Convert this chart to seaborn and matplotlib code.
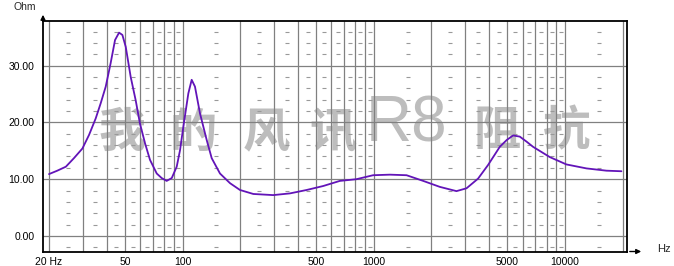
import numpy as np
import pandas as pd
import matplotlib
matplotlib.use("Agg")
import matplotlib.pyplot as plt
import seaborn as sns

# ---------------- data ----------------
freq_hz = [20, 22.1, 24.5, 27.0, 29.9, 32.4, 35.1, 37.3, 39.6, 42.0, 44.3, 46.5,
           48.4, 50.4, 53.5, 56.8, 59.8, 63.6, 67.5, 73.2, 77.7, 82.5, 87.7,
           93.1, 96.9, 100.8, 107.1, 111.5, 116.0, 123.2, 133.6, 141.9, 156.8,
           176.9, 199.5, 234.2, 297.6, 363.9, 444.9, 543.3, 664, 811,
           991, 1213, 1483, 1812, 2213, 2705, 3053, 3508, 3957, 4557, 4954,
           5348, 5796, 6299, 6804, 8316, 10166, 12945, 16458, 19723]
impedance_ohm = [10.9, 11.5, 12.2, 13.7, 15.4, 17.8, 20.7, 23.4, 26.3, 30.4, 34.5,
                 35.8, 35.4, 33.3, 28.0, 23.9, 19.8, 16.3, 13.4, 11.0, 10.2, 9.7,
                 10.2, 12.2, 15.1, 19.2, 25.1, 27.5, 26.3, 21.6, 16.9, 13.7, 11.0,
                 9.3, 8.1, 7.4, 7.2, 7.5, 8.1, 8.8, 9.7, 10.0,
                 10.7, 10.8, 10.7, 9.7, 8.65, 7.9, 8.4, 10.1, 12.5, 15.7, 16.9,
                 17.7, 17.5, 16.6, 15.7, 13.9, 12.6, 11.9, 11.5, 11.4]

x_grid = [20, 30, 40, 50, 60, 70, 80, 90,
          100, 200, 300, 400, 500, 600, 700, 800, 900,
          1000, 2000, 3000, 4000, 5000, 6000, 7000, 8000, 9000,
          10000, 20000]
x_labels = {20: "20 Hz", 50: "50", 100: "100", 500: "500",
            1000: "1000", 5000: "5000", 10000: "10000"}
y_ticks = [0, 10, 20, 30]
y_tick_labels = ["0.00", "10.00", "20.00", "30.00"]
y_minor_rows = [-2, 2, 4, 6, 8, 12, 14, 16, 18, 22, 24, 26, 28, 32, 34, 36]

watermark_parts = ["我", "的", "风", "讯", "R8", "阻", "抗"]
watermark_px_x = [122, 193, 266, 333, 407, 497, 567]
watermark_px_y = [133, 133, 133, 133, 124, 131, 131]

# ---------------- figure ----------------
W, H = 674, 266
sns.set_style("white")
plt.rcParams['font.family'] = ['Liberation Sans', 'DejaVu Sans']

fig = plt.figure(figsize=(W / 100, H / 100), dpi=100)
fig.patch.set_facecolor("white")

left_px, right_px, top_px, bottom_px = 43, 627, 21, 251.5
ax = fig.add_axes([left_px / W, 1 - bottom_px / H,
                   (right_px - left_px) / W, (bottom_px - top_px) / H])

# pixel mapping
f20_px, decade_px = 49, 191.2
y0_px, px_per_ohm = 236, 5.68
xmin = 20 * 10 ** ((left_px - f20_px) / decade_px)
xmax = 20 * 10 ** ((right_px - f20_px) / decade_px)
ymin = (y0_px - bottom_px) / px_per_ohm
ymax = (y0_px - top_px) / px_per_ohm

ax.set_xscale("log")
ax.set_xlim(xmin, xmax)
ax.set_ylim(ymin, ymax)

grid_c = "#808080"
for xv in x_grid:
    ax.axvline(xv, color=grid_c, lw=0.9, zorder=1)
for yv in y_ticks:
    ax.axhline(yv, color=grid_c, lw=0.9, zorder=1)

# minor dash marks at midpoints between vertical grid lines
mids = [(a + b) / 2 for a, b in zip(x_grid[:-1], x_grid[1:])]
mx, my = np.meshgrid(mids, y_minor_rows)
ax.scatter(mx.ravel(), my.ravel(), marker="_", s=5, linewidths=0.8,
           color="#999999", zorder=1)

# watermark
for t, px, py in zip(watermark_parts, watermark_px_x, watermark_px_y):
    if t.isascii():
        fig.text(px / W, 1 - py / H, t, ha="center", va="center",
                 fontsize=46, color="#bdbdbd", family=["Liberation Sans"],
                 zorder=2)
    else:
        fig.text(px / W, 1 - py / H, t, ha="center", va="center",
                 fontsize=34, color="#bdbdbd", fontweight="bold",
                 family=["Noto Sans CJK SC", "DejaVu Sans"], zorder=2)

df = pd.DataFrame({"freq": freq_hz, "ohm": impedance_ohm})
sns.lineplot(data=df, x="freq", y="ohm", ax=ax, color="#6214b8", lw=1.3,
             estimator=None, sort=True, zorder=5)
ax.patch.set_alpha(0)
ax.set_zorder(3)

# ticks
ax.set_xticks(x_grid)
ax.set_xticklabels([x_labels.get(v, "") for v in x_grid])
ax.xaxis.set_minor_locator(matplotlib.ticker.NullLocator())
ax.set_yticks(y_ticks)
ax.set_yticklabels(y_tick_labels)
ax.tick_params(axis="x", length=0, pad=4, labelsize=7.5, colors="black")
ax.tick_params(axis="y", length=3, width=0.9, color=grid_c, pad=3,
               labelsize=7.5, labelcolor="black")
ax.set_xlabel("")
ax.set_ylabel("")

for s in ["left", "bottom", "top", "right"]:
    ax.spines[s].set_visible(True)
    ax.spines[s].set_color("black")
    ax.spines[s].set_linewidth(1.3)

# axis labels & arrows
fig.text(25 / W, 1 - 7.5 / H, "Ohm", ha="center", va="center", fontsize=7.5)
fig.text(664 / W, 1 - 249 / H, "Hz", ha="center", va="center", fontsize=8)
fig.add_artist(matplotlib.patches.FancyArrowPatch(
    (left_px / W, 1 - top_px / H), (left_px / W, 1 - 12 / H),
    transform=fig.transFigure, arrowstyle="-|>", mutation_scale=7,
    color="black", lw=1.0))
fig.add_artist(matplotlib.patches.FancyArrowPatch(
    (right_px / W, 1 - bottom_px / H), (644 / W, 1 - bottom_px / H),
    transform=fig.transFigure, arrowstyle="-|>", mutation_scale=7,
    color="black", lw=1.0))

fig.savefig("out.png", dpi=100)
